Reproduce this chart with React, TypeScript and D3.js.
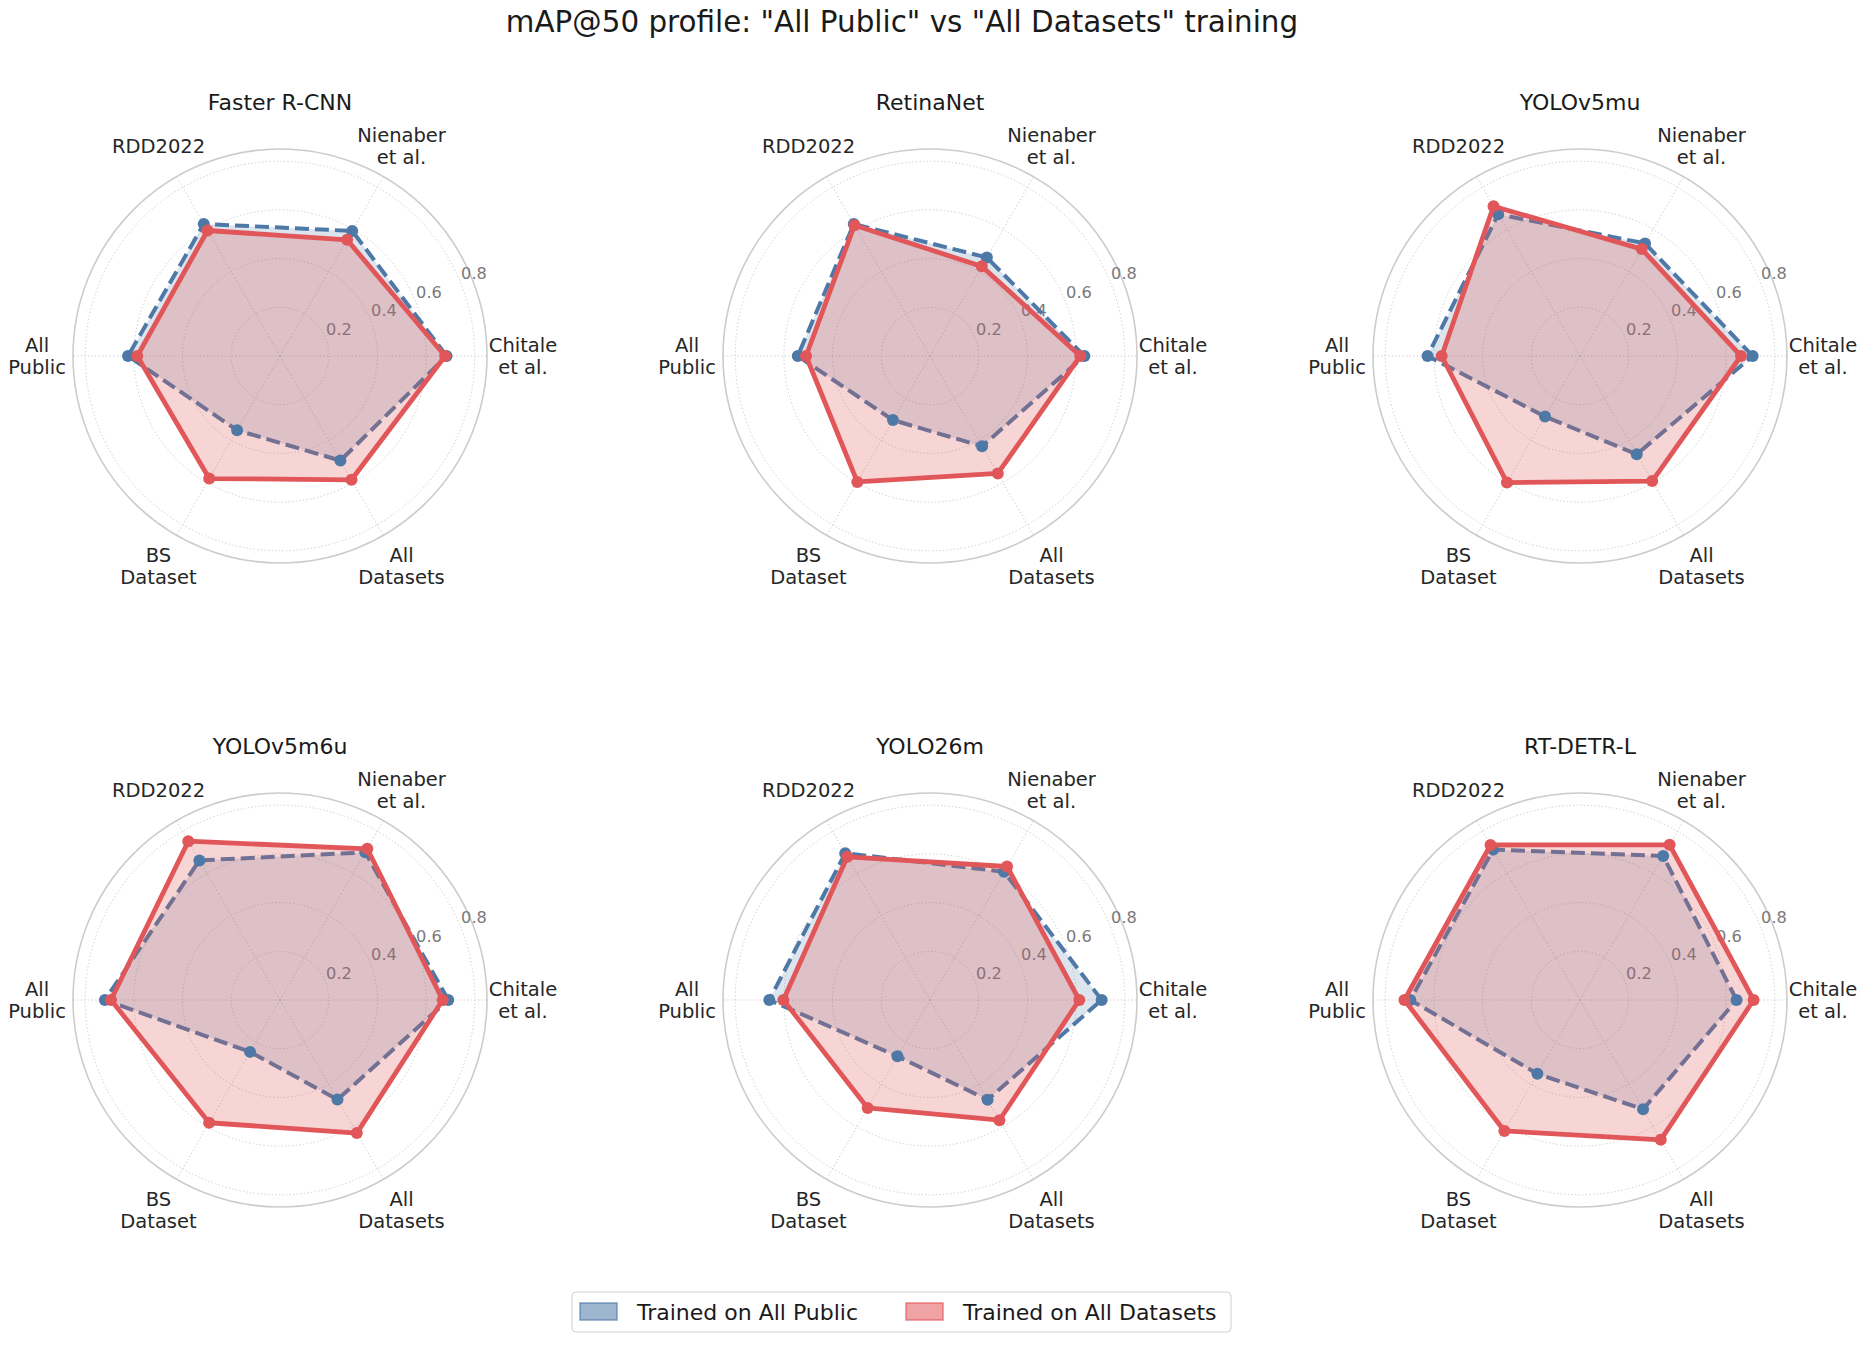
import React from 'react';
import * as d3 from 'd3';

// axis order: Chitale, Nienaber, RDD2022, All Public, BS Dataset, All Datasets
const categories = [
  ['Chitale', 'et al.'],
  ['Nienaber', 'et al.'],
  ['RDD2022'],
  ['All', 'Public'],
  ['BS', 'Dataset'],
  ['All', 'Datasets'],
];

const models = ['Faster R-CNN', 'RetinaNet', 'YOLOv5mu', 'YOLOv5m6u', 'YOLO26m', 'RT-DETR-L'];

// mAP@50 when trained on All Public
const allPublic = [
  [0.684, 0.593, 0.626, 0.624, 0.352, 0.496],
  [0.634, 0.467, 0.626, 0.543, 0.304, 0.428],
  [0.709, 0.534, 0.672, 0.626, 0.287, 0.466],
  [0.691, 0.700, 0.662, 0.719, 0.246, 0.472],
  [0.705, 0.608, 0.696, 0.660, 0.267, 0.473],
  [0.643, 0.683, 0.713, 0.697, 0.350, 0.518],
];

// mAP@50 when trained on All Datasets
const allDatasets = [
  [0.678, 0.551, 0.595, 0.586, 0.581, 0.587],
  [0.617, 0.425, 0.620, 0.509, 0.597, 0.557],
  [0.661, 0.507, 0.710, 0.568, 0.600, 0.593],
  [0.668, 0.717, 0.753, 0.694, 0.582, 0.631],
  [0.613, 0.633, 0.679, 0.602, 0.512, 0.570],
  [0.713, 0.736, 0.735, 0.721, 0.621, 0.663],
];

const rTicks = [0.2, 0.4, 0.6, 0.8];
const rMax = 0.85;

const BLUE = '#4E79A7';
const RED = '#E15759';
const FONT = '"DejaVu Sans", sans-serif';

const W = 1865;
const H = 1345;
const colX = [280, 930, 1580];
const rowY = [356, 1000];
const R = 207;

const rScale = d3.scaleLinear().domain([0, rMax]).range([0, R]);
const theta = (i: number) => (i * 2 * Math.PI) / categories.length;
// d3 radial angles start at 12 o'clock and go clockwise
const toD3 = (i: number) => Math.PI / 2 - theta(i);

const radarLine = d3
  .lineRadial<number>()
  .angle((_, i) => toD3(i))
  .radius((v) => rScale(v))
  .curve(d3.curveLinearClosed);

const Radar: React.FC<{ idx: number; cx: number; cy: number }> = ({ idx, cx, cy }) => {
  const blue = allPublic[idx];
  const red = allDatasets[idx];
  const labelAngle = (22.5 * Math.PI) / 180;
  return (
    <g transform={`translate(${cx},${cy})`}>
      <text
        x={0}
        y={-246}
        textAnchor="middle"
        fontSize={22}
        fill="#1a1a1a"
        fontFamily={FONT}
      >
        {models[idx]}
      </text>

      {rTicks.map((t) => (
        <circle
          key={t}
          r={rScale(t)}
          fill="none"
          stroke="#c8c8c8"
          strokeWidth={1}
          strokeDasharray="1.2,2.4"
        />
      ))}
      {categories.map((_, i) => {
        const [x, y] = d3.pointRadial(toD3(i), R);
        return (
          <line
            key={i}
            x1={0}
            y1={0}
            x2={x}
            y2={y}
            stroke="#c8c8c8"
            strokeWidth={1}
            strokeDasharray="1.2,2.4"
          />
        );
      })}
      <circle r={R} fill="none" stroke="#cccccc" strokeWidth={1.6} />

      {rTicks.map((t) => {
        const r = rScale(t);
        const x = r * Math.cos(labelAngle) + 14;
        const y = -r * Math.sin(labelAngle) - 8;
        return (
          <text
            key={t}
            x={x}
            y={y}
            textAnchor="middle"
            dominantBaseline="central"
            fontSize={16.2}
            fill="#7a7a7a"
            fontFamily={FONT}
          >
            {t.toFixed(1)}
          </text>
        );
      })}

      {categories.map((lines, i) => {
        const [x, y] = d3.pointRadial(toD3(i), 243);
        const lh = 22;
        return (
          <text
            key={i}
            textAnchor="middle"
            dominantBaseline="central"
            fontSize={19.5}
            fill="#262626"
            fontFamily={FONT}
          >
            {lines.map((ln, k) => (
              <tspan key={k} x={x} y={y + (k - (lines.length - 1) / 2) * lh}>
                {ln}
              </tspan>
            ))}
          </text>
        );
      })}

      <path d={radarLine(blue) || ''} fill={BLUE} fillOpacity={0.2} stroke="none" />
      <path
        d={radarLine(blue) || ''}
        fill="none"
        stroke={BLUE}
        strokeWidth={4}
        strokeDasharray="14,6"
        strokeLinejoin="round"
      />
      <path d={radarLine(red) || ''} fill={RED} fillOpacity={0.25} stroke="none" />
      {blue.map((v, i) => {
        const [x, y] = d3.pointRadial(toD3(i), rScale(v));
        return <circle key={i} cx={x} cy={y} r={6} fill={BLUE} />;
      })}
      <path
        d={radarLine(red) || ''}
        fill="none"
        stroke={RED}
        strokeWidth={4.8}
        strokeLinejoin="round"
      />
      {red.map((v, i) => {
        const [x, y] = d3.pointRadial(toD3(i), rScale(v));
        return <circle key={i} cx={x} cy={y} r={6} fill={RED} />;
      })}
    </g>
  );
};

const legendItems = [
  { label: 'Trained on All Public', color: BLUE, x: 580 },
  { label: 'Trained on All Datasets', color: RED, x: 906 },
];

export default function App() {
  return (
    <svg
      width={W}
      height={H}
      viewBox={`0 0 ${W} ${H}`}
      style={{ position: 'absolute', left: 0, top: 0, background: '#fff' }}
    >
      <rect width={W} height={H} fill="#fff" />
      <text
        x={902}
        y={32}
        textAnchor="middle"
        fontSize={29.4}
        fill="#1a1a1a"
        fontFamily={FONT}
      >
        mAP@50 profile: "All Public" vs "All Datasets" training
      </text>

      {models.map((_, i) => (
        <Radar key={i} idx={i} cx={colX[i % 3]} cy={rowY[Math.floor(i / 3)]} />
      ))}

      <g>
        <rect
          x={572}
          y={1292}
          width={659}
          height={40}
          rx={4}
          fill="#fff"
          stroke="#d0d0d0"
          strokeWidth={1}
        />
        {legendItems.map((it) => (
          <g key={it.label}>
            <rect
              x={it.x}
              y={1303}
              width={37}
              height={17}
              fill={it.color}
              fillOpacity={0.55}
              stroke={it.color}
              strokeOpacity={0.7}
              strokeWidth={1.5}
            />
            <text
              x={it.x + 57}
              y={1312}
              dominantBaseline="central"
              fontSize={22}
              fill="#1a1a1a"
              fontFamily={FONT}
            >
              {it.label}
            </text>
          </g>
        ))}
      </g>
    </svg>
  );
}
